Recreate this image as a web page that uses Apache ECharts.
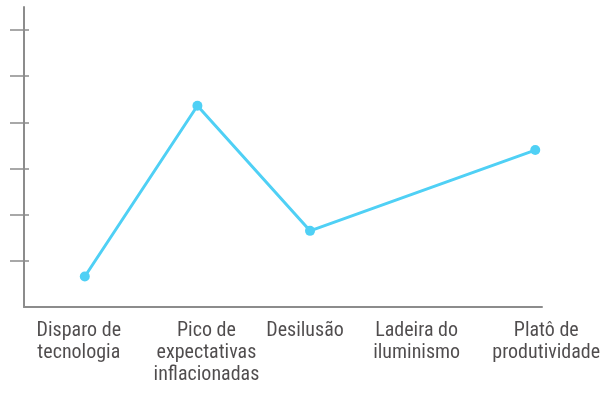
<!DOCTYPE html>
<html>
<head>
<meta charset="utf-8">
<script src="https://cdn.jsdelivr.net/npm/echarts@6/dist/echarts.min.js"></script>
<style>html,body{margin:0;padding:0;background:#fff}#c{width:613px;height:394px}</style>
</head>
<body>
<div id="c"></div>
<script>
var categories = ['Disparo de\ntecnologia', 'Pico de\nexpectativas\ninflacionadas', 'Desilusão', 'Ladeira do\niluminismo', 'Platô de\nprodutividade'];
var values = [0.66, 4.36, 1.65, null, 3.40];
var categoryIndex = [0, 1, 2, 3, 4];
var yTicks = [1, 2, 3, 4, 5, 6];

// horizontal nudges for each category label (style only)
var labelShift = [-6, 9, -5, -6, 11];

var chart = echarts.init(document.getElementById('c'), null, {renderer: 'canvas'});
var axisColor = '#8c8c8c';
chart.setOption({
  animation: false,
  grid: {left: 24, right: 71, top: 7, bottom: 87, containLabel: false},
  xAxis: {
    type: 'value', min: -0.54, max: 4.06,
    splitLine: {show: false},
    axisLine: {show: true, onZero: false, lineStyle: {color: axisColor, width: 2}},
    axisTick: {show: false},
    axisLabel: {show: false}
  },
  yAxis: [{
    type: 'value', min: 0, max: 6.5,
    splitLine: {show: false},
    axisLine: {show: true, onZero: false, lineStyle: {color: axisColor, width: 2}},
    axisTick: {show: true, customValues: yTicks, length: 14, lineStyle: {color: axisColor, width: 1.5}},
    axisLabel: {show: false}
  }, {
    type: 'value', min: 0, max: 6.5, position: 'left', offset: 0,
    splitLine: {show: false},
    axisLine: {show: false, onZero: false},
    axisTick: {show: true, inside: true, customValues: yTicks, length: 5, lineStyle: {color: axisColor, width: 1.5}},
    axisLabel: {show: false}
  }],
  series: [{
    type: 'line',
    data: values.map(function (v, i) { return [categoryIndex[i], v]; }),
    connectNulls: true,
    symbol: 'circle', symbolSize: 10,
    showSymbol: true,
    lineStyle: {color: '#4fd0f5', width: 3},
    itemStyle: {color: '#4fd0f5'},
    z: 3
  }, {
    type: 'scatter',
    silent: true,
    symbolSize: 1,
    itemStyle: {color: 'rgba(0,0,0,0)'},
    data: categoryIndex.map(function (x, i) {
      return {value: [x, 0], label: {offset: [labelShift[i], 0]}};
    }),
    label: {
      show: true,
      position: 'bottom',
      distance: 12,
      align: 'center',
      verticalAlign: 'top',
      fontFamily: 'Roboto Condensed',
      fontSize: 20,
      lineHeight: 22,
      color: '#231f20',
      formatter: function (p) { return categories[p.dataIndex]; }
    },
    z: 1
  }]
});
</script>
</body>
</html>
